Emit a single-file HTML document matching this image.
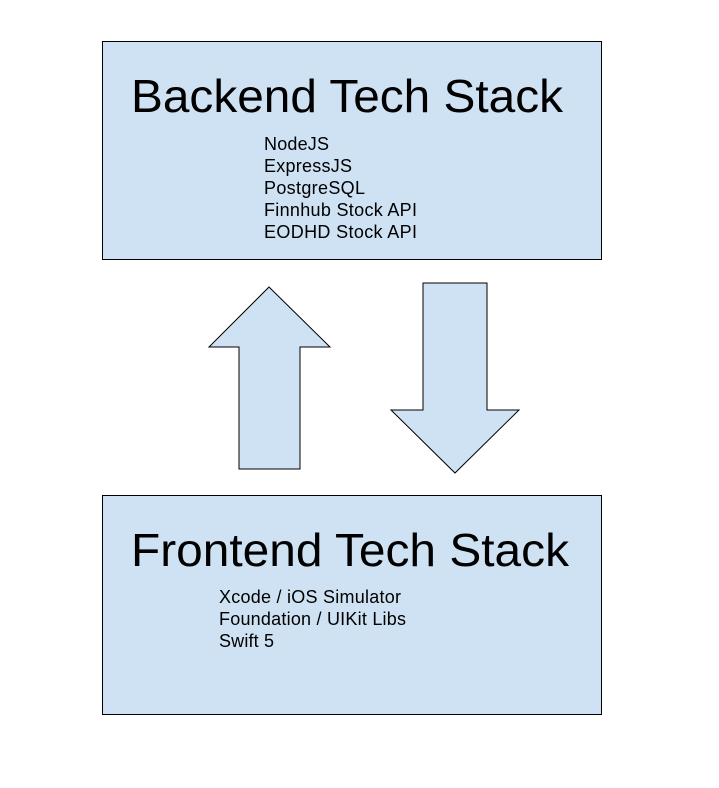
<!DOCTYPE html>
<html><head><style>body{margin:0;background:#fff}</style></head><body>
<svg width="719" height="783" xmlns="http://www.w3.org/2000/svg" font-family="Liberation Sans, Arial, sans-serif">
<rect x="102.5" y="41.5" width="499" height="218" fill="#cfe2f3" stroke="#000" stroke-width="1"/>
<rect x="102.5" y="495.5" width="499" height="219" fill="#cfe2f3" stroke="#000" stroke-width="1"/>
<polygon points="269,287 330,347 300,347 300,469 239,469 239,347 209,347" fill="#cfe2f3" stroke="#000"/>
<polygon points="423,283 487,283 487,410 519,410 455,473 391,410 423,410" fill="#cfe2f3" stroke="#000"/>
<text x="131" y="112" font-size="46" textLength="432" lengthAdjust="spacingAndGlyphs">Backend Tech Stack</text>
<g font-size="18" lengthAdjust="spacingAndGlyphs">
<text x="264" y="150" textLength="65">NodeJS</text>
<text x="264" y="172" textLength="88">ExpressJS</text>
<text x="264" y="194" textLength="101">PostgreSQL</text>
<text x="264" y="216" textLength="153">Finnhub Stock API</text>
<text x="264" y="238" textLength="153">EODHD Stock API</text>
<text x="219" y="603" textLength="182">Xcode / iOS Simulator</text>
<text x="219" y="625" textLength="187">Foundation / UIKit Libs</text>
<text x="219" y="647" textLength="55">Swift 5</text>
</g>
<text x="131" y="566" font-size="46" textLength="438" lengthAdjust="spacingAndGlyphs">Frontend Tech Stack</text>
</svg>
</body></html>
